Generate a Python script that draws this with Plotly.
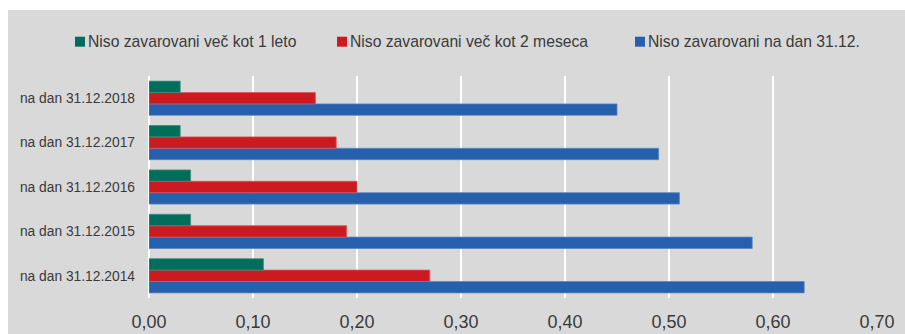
import plotly.graph_objects as go

# Categories (bottom to top on the chart)
categories = [
    "na dan 31.12.2014",
    "na dan 31.12.2015",
    "na dan 31.12.2016",
    "na dan 31.12.2017",
    "na dan 31.12.2018",
]

# Shares for each category, in the same order
over_1_year = [0.11, 0.04, 0.04, 0.03, 0.03]
over_2_months = [0.27, 0.19, 0.20, 0.18, 0.16]
on_dec_31 = [0.63, 0.58, 0.51, 0.49, 0.45]

series_names = [
    "Niso zavarovani več kot 1 leto",
    "Niso zavarovani več kot 2 meseca",
    "Niso zavarovani na dan 31.12.",
]

x_ticks = [0.0, 0.1, 0.2, 0.3, 0.4, 0.5, 0.6, 0.7]
x_tick_labels = ["0,00", "0,10", "0,20", "0,30", "0,40", "0,50", "0,60", "0,70"]

colors = ["#006e5a", "#cc1a21", "#265fab"]
edge_colors = ["#3d8f7e", "#d9555a", "#5a86c2"]

FONT = "Liberation Sans, Arial, sans-serif"
TEXT = "#3a3a3a"
GRAY = "#d9d9d9"

# Plot-area geometry in pixels, used to place the panel and the legend row
W, H = 905, 334
L, R, T, B = 149, 28, 76, 36
PW, PH = W - L - R, H - T - B


def px_x(px):
    return (px - L) / PW


def px_y(py):
    return (H - B - py) / PH


fig = go.Figure()

# Traces are added bottom-up within each group so the first series sits on top
for values, name, color, edge in reversed(
    list(zip([over_1_year, over_2_months, on_dec_31], series_names, colors, edge_colors))
):
    fig.add_trace(
        go.Bar(
            x=values,
            y=categories,
            name=name,
            orientation="h",
            marker=dict(color=color, line=dict(color=edge, width=0.8)),
            hoverinfo="x+name",
            showlegend=False,
        )
    )

shapes = [
    # Gray panel behind the whole chart
    dict(
        type="rect",
        xref="paper",
        yref="paper",
        x0=px_x(8),
        x1=px_x(W),
        y0=px_y(H),
        y1=px_y(10),
        fillcolor=GRAY,
        line=dict(width=0),
        layer="below",
    )
]
annotations = []

# Legend row: colour swatch followed by the series name
legend_x = [75, 337, 635]
for sx, name, color in zip(legend_x, series_names, colors):
    shapes.append(
        dict(
            type="rect",
            xref="paper",
            yref="paper",
            x0=px_x(sx),
            x1=px_x(sx + 10),
            y0=px_y(46.7),
            y1=px_y(36.7),
            fillcolor=color,
            line=dict(width=0),
        )
    )
    annotations.append(
        dict(
            xref="paper",
            yref="paper",
            x=px_x(sx + 11.5),
            y=px_y(41.5),
            xanchor="left",
            yanchor="middle",
            text=name,
            showarrow=False,
            borderpad=0,
            font=dict(size=15.7, family=FONT, color=TEXT),
        )
    )

fig.update_layout(
    width=W,
    height=H,
    margin=dict(l=L, r=R, t=T, b=B, autoexpand=False),
    paper_bgcolor="white",
    plot_bgcolor=GRAY,
    barmode="group",
    bargap=0.23,
    bargroupgap=0,
    font=dict(family=FONT, color=TEXT),
    showlegend=False,
    shapes=shapes,
    annotations=annotations,
)

fig.update_xaxes(
    range=[0, 0.7],
    tickvals=x_ticks,
    ticktext=x_tick_labels,
    showgrid=True,
    gridcolor="white",
    gridwidth=1.5,
    zeroline=True,
    zerolinecolor="white",
    zerolinewidth=2,
    showline=False,
    tickfont=dict(size=18, family=FONT, color=TEXT),
    ticklabelstandoff=11,
    automargin=False,
    fixedrange=True,
)

fig.update_yaxes(
    categoryorder="array",
    categoryarray=categories,
    showgrid=False,
    showline=False,
    tickfont=dict(size=13.8, family=FONT, color=TEXT),
    ticklabelstandoff=13,
    automargin=False,
    fixedrange=True,
)

fig.write_html("out.html")
